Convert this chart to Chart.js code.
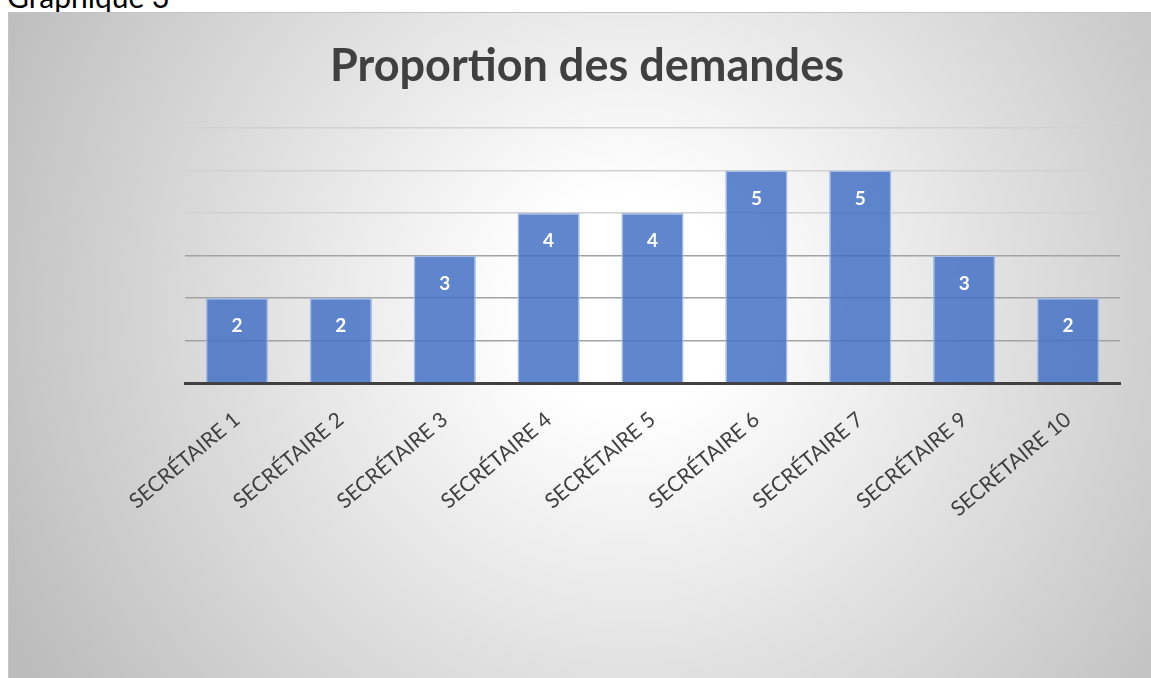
<!DOCTYPE html>
<html>
<head>
<meta charset="utf-8">
<script src="https://cdn.jsdelivr.net/npm/chart.js@4"></script>
<style>
   body { margin: 0; overflow: hidden; background: #ffffff; font-family: Lato, "Open Sans", sans-serif; }
   #caption { position: absolute; left: 7px; top: -19px; font-size: 30px; line-height: 1; color: #000; white-space: nowrap; }
   #frame { position: absolute; left: 8px; top: 12px; width: 1150px; height: 672px; border: 1px solid #c4c4c4; }
   #frame canvas { position: absolute; left: 0; top: 0; }
</style>
</head>
<body>
<div id="caption">Graphique 3</div>
<div id="frame"><canvas id="chart" width="1142" height="665"></canvas></div>
<script>
   // données
   const categories = ['SECRÉTAIRE 1', 'SECRÉTAIRE 2', 'SECRÉTAIRE 3', 'SECRÉTAIRE 4', 'SECRÉTAIRE 5',
      'SECRÉTAIRE 6', 'SECRÉTAIRE 7', 'SECRÉTAIRE 9', 'SECRÉTAIRE 10'];
   const demandes = [2, 2, 3, 4, 4, 5, 5, 3, 2];
   const titre = 'Proportion des demandes';

   // fond en dégradé radial (blanc au centre, gris sur les bords)
   const backgroundPlugin = {
      id: 'radialBackground',
      beforeDraw(chart) {
         const ctx = chart.ctx;
         const w = chart.width, h = chart.height;
         const grad = ctx.createRadialGradient(620, 290, 0, 620, 290, 700);
         grad.addColorStop(0, '#ffffff');
         grad.addColorStop(0.15, '#ffffff');
         grad.addColorStop(1, '#bcbcbc');
         ctx.save();
         ctx.fillStyle = grad;
         ctx.fillRect(0, 0, w, h);
         ctx.restore();
      }
   };

   // valeurs en blanc en haut de chaque barre
   const valueLabels = {
      id: 'valueLabels',
      afterDatasetsDraw(chart) {
         const ctx = chart.ctx;
         const meta = chart.getDatasetMeta(0);
         ctx.save();
         ctx.fillStyle = '#ffffff';
         ctx.font = 'bold 19px Lato, "Open Sans", sans-serif';
         ctx.textAlign = 'center';
         ctx.textBaseline = 'middle';
         meta.data.forEach((bar, i) => {
            ctx.fillText(String(demandes[i]), bar.x, bar.y + 28);
         });
         ctx.restore();
      }
   };

   const ctx = document.getElementById('chart').getContext('2d');
   new Chart(ctx, {
      type: 'bar',
      data: {
         labels: categories,
         datasets: [{
            data: demandes,
            backgroundColor: 'rgba(68, 114, 196, 0.85)',
            borderColor: 'rgba(160, 185, 230, 0.9)',
            borderWidth: { top: 1.5, left: 1.5, right: 1.5, bottom: 0 },
            borderSkipped: 'start',
            categoryPercentage: 1,
            barPercentage: 0.6
         }]
      },
      options: {
         responsive: false,
         animation: false,
         layout: { padding: { left: 45, right: 31, top: 0, bottom: 0 } },
         plugins: {
            legend: { display: false },
            tooltip: { enabled: false },
            title: {
               display: true,
               text: titre,
               color: '#404040',
               font: { family: 'Lato, "Open Sans", sans-serif', size: 45, weight: 'bold', lineHeight: 1.2 },
               padding: { top: 26, bottom: 35 }
            }
         },
         scales: {
            x: {
               offset: true,
               grid: { display: false, drawTicks: false },
               border: { display: true, color: '#404040', width: 3 },
               ticks: {
                  color: '#404040',
                  font: { family: 'Lato, "Open Sans", sans-serif', size: 21 },
                  minRotation: 40,
                  maxRotation: 40,
                  padding: 24,
                  autoSkip: false
               },
               afterFit(scale) { scale.height = 295; }
            },
            y: {
               min: 0,
               max: 6,
               ticks: { display: false, stepSize: 1 },
               border: { display: false },
               grid: {
                  drawTicks: false,
                  lineWidth: 1.5,
                  color: (c) => {
                     const v = c.tick ? c.tick.value : 0;
                     if (v === 0) return 'rgba(0,0,0,0)';
                     return v <= 3 ? '#a3a3a3' : '#d2d2d2';
                  }
               },
               afterFit(scale) { scale.width = 131; }
            }
         }
      },
      plugins: [backgroundPlugin, valueLabels]
   });
</script>
</body>
</html>
